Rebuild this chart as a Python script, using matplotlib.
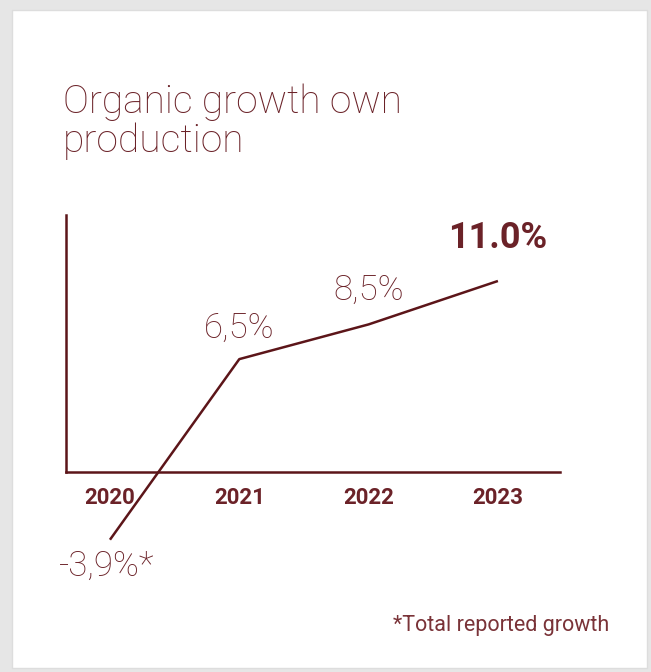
import matplotlib.pyplot as plt
from matplotlib.patches import Rectangle

# chart data
years = ['2020', '2021', '2022', '2023']
growth = [-3.9, 6.5, 8.5, 11.0]
labels = ['-3,9%*', '6,5%', '8,5%', '11.0%']

maroon = '#5c1519'
text_col = '#6b2228'
fam = ['Roboto', 'DejaVu Sans']

fig = plt.figure(figsize=(6.51, 6.72), dpi=100)
fig.patch.set_facecolor('#e6e6e6')
# white card
fig.patches.append(Rectangle((12 / 651, 4 / 672), 635 / 651, 658 / 672,
                             transform=fig.transFigure, facecolor='white',
                             edgecolor='#dddddd', linewidth=1, zorder=-5))

fig.text(63 / 651, 1 - 152 / 672, 'Organic growth own\nproduction', fontsize=28,
         color=text_col, family=fam, fontweight='light', ha='left', va='baseline',
         linespacing=1.06)

ax = fig.add_axes([66 / 651, 1 - 472 / 672, 494 / 651, 257 / 672])
ax.set_facecolor('none')
x = list(range(len(years)))
ax.plot(x, growth, color=maroon, linewidth=1.8, clip_on=False, solid_capstyle='butt')
ax.set_xlim(-0.34, 3.48)
ax.set_ylim(0, 14.8)

for s in ['top', 'right']:
    ax.spines[s].set_visible(False)
for s in ['left', 'bottom']:
    ax.spines[s].set_color(maroon)
    ax.spines[s].set_linewidth(1.8)
ax.set_yticks([])
ax.set_xticks(x)
ax.set_xticklabels(years, fontsize=16, fontweight='bold', color=text_col, family=fam)
ax.tick_params(axis='x', length=0, pad=11)

# value labels
offsets = [(-2, -19), (0, 22), (0, 25), (0, 31)]
for i, (v, lab) in enumerate(zip(growth, labels)):
    dx, dy = offsets[i]
    bold = i == len(growth) - 1
    ax.annotate(lab, (i, v), xytext=(dx, dy), textcoords='offset points',
                ha='center', va='center', fontsize=25 if not bold else 26,
                fontweight='bold' if bold else 'light', color=text_col,
                family=fam, annotation_clip=False)

fig.text(609 / 651, 1 - 626 / 672, '*Total reported growth', fontsize=15.5,
         color='#7a3338', family=fam, ha='right', va='center')

fig.savefig('out.png', dpi=100, facecolor=fig.get_facecolor())
